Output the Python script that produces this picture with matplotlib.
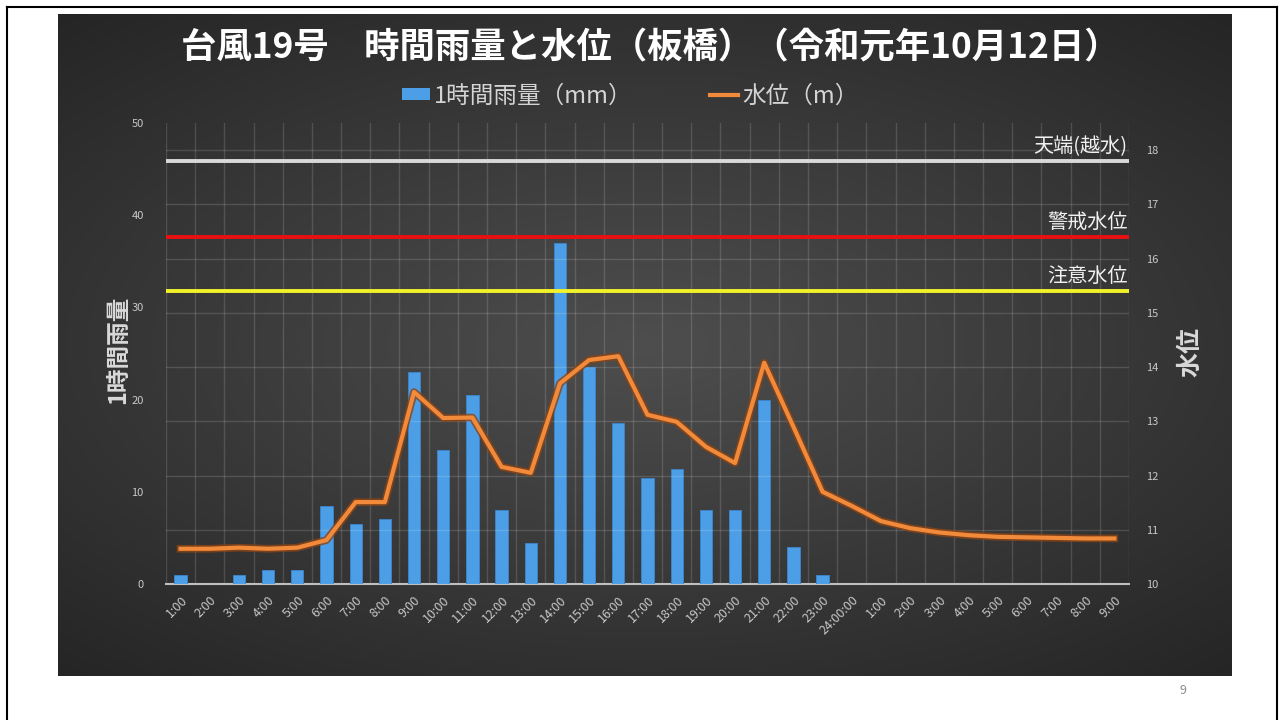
import numpy as np
import matplotlib
matplotlib.use('Agg')
import matplotlib.pyplot as plt
from matplotlib.lines import Line2D
from matplotlib.patches import Patch
import matplotlib.patheffects as pe

plt.rcParams['font.family'] = ['Noto Sans CJK JP', 'DejaVu Sans']

# ---- data ----
categories = ['1:00', '2:00', '3:00', '4:00', '5:00', '6:00', '7:00', '8:00', '9:00',
              '10:00', '11:00', '12:00', '13:00', '14:00', '15:00', '16:00', '17:00',
              '18:00', '19:00', '20:00', '21:00', '22:00', '23:00', '24:00:00',
              '1:00', '2:00', '3:00', '4:00', '5:00', '6:00', '7:00', '8:00', '9:00']
rain_mm = [1, 0, 1, 1.5, 1.5, 8.5, 6.5, 7, 23, 14.5, 20.5, 8, 4.5, 37, 23.5, 17.5,
           11.5, 12.5, 8, 8, 20, 4, 1, 0, 0, 0, 0, 0, 0, 0, 0, 0, 0]
water_level_m = [10.65, 10.65, 10.67, 10.65, 10.67, 10.81, 11.51, 11.51, 13.54, 13.06,
                 13.07, 12.16, 12.05, 13.7, 14.13, 14.2, 13.12, 12.99, 12.53, 12.23,
                 14.08, 12.9, 11.7, 11.44, 11.16, 11.03, 10.95, 10.9, 10.87, 10.86,
                 10.85, 10.84, 10.84]
level_names = ['天端(越水)', '警戒水位', '注意水位']
level_values = [17.8, 16.4, 15.4]
level_colors = ['#d9d9d9', '#e81010', '#f2f22a']
rain_ticks = [0, 10, 20, 30, 40, 50]
level_ticks = [10, 11, 12, 13, 14, 15, 16, 17, 18]

title = '台風19号　時間雨量と水位（板橋）（令和元年10月12日）'
legend_rain = '1時間雨量（mm）'
legend_level = '水位（m）'

W, H = 1281, 720
fig = plt.figure(figsize=(W / 100, H / 100), dpi=100)
fig.patch.set_facecolor('white')

# slide border
for xs, ys in [((7 / W, 7 / W), (0, 1 - 7 / H)), ((7 / W, 1277 / W), (1 - 7 / H, 1 - 7 / H)),
               ((1277 / W, 1277 / W), (1 - 7 / H, 0))]:
    fig.add_artist(Line2D(xs, ys, color='black', lw=1.5, transform=fig.transFigure))

# dark gradient background
bg = fig.add_axes([58 / W, 1 - 676 / H, (1232 - 58) / W, (676 - 14) / H])
bg.set_axis_off()
gx, gy = np.meshgrid(np.linspace(-1, 1, 400), np.linspace(-1, 1, 240))
r = np.sqrt((gx * 0.9) ** 2 + (gy * 1.0) ** 2)
r = np.clip(r / 1.35, 0, 1)
c0 = np.array([0x4e, 0x4e, 0x4e]) / 255
c1 = np.array([0x25, 0x25, 0x25]) / 255
img = c0[None, None, :] * (1 - r[..., None]) + c1[None, None, :] * r[..., None]
bg.imshow(img, aspect='auto', extent=[0, 1, 0, 1], interpolation='bilinear')

# main axes
left, bottom = 166 / W, 1 - 584 / H
width, height = (1129 - 166) / W, (584 - 123) / H
ax = fig.add_axes([left, bottom, width, height])
ax.set_facecolor('none')
ax2 = ax.twinx()
ax2.set_facecolor('none')

x = np.arange(len(categories))
ax.bar(x, rain_mm, width=0.42, color='#4c9fe6', edgecolor='#3b86cf', linewidth=0.6, zorder=3)
ax.set_xlim(-0.5, len(categories) - 0.5)
ax.set_ylim(0, 50)
ax.set_yticks(rain_ticks)
ax.set_xticks(x)
ax.set_xticklabels(categories, rotation=45, ha='right', rotation_mode='anchor',
                   fontsize=9, color='#c8c8c8')
ax.set_xticks(np.arange(len(categories) + 1) - 0.5, minor=True)
ax.grid(which='minor', axis='x', color='white', alpha=0.14, lw=1)
ax.tick_params(axis='x', which='both', length=0, pad=7)
ax.tick_params(axis='y', length=0, labelsize=8, colors='#c8c8c8', pad=16)
for s in ['top', 'right', 'left']:
    ax.spines[s].set_visible(False)
ax.spines['bottom'].set_color('#bfbfbf')
ax.spines['bottom'].set_linewidth(1.5)

ax2.set_ylim(10, 18.5)
ax2.set_yticks(level_ticks)
ax2.tick_params(axis='y', length=0, labelsize=8, colors='#c8c8c8', pad=12)
ax2.grid(axis='y', color='white', alpha=0.14, lw=1)
for s in ax2.spines.values():
    s.set_visible(False)

for name, val, col in zip(level_names, level_values, level_colors):
    ax2.axhline(val, color=col, lw=2.8, zorder=4)
    ax2.annotate(name, xy=(1, val), xycoords=('axes fraction', 'data'),
                 xytext=(-1, 3), textcoords='offset points', ha='right', va='bottom',
                 fontsize=14.5, color='#f0f0f0', zorder=6)

ax2.plot(x, water_level_m, color='#f28a3c', lw=3, zorder=5, solid_joinstyle='round',
         path_effects=[pe.Stroke(linewidth=5.5, foreground='#8a4415', alpha=0.8), pe.Normal()])

# title
fig.text(650 / W, 1 - 48 / H, title, ha='center', va='center', fontsize=25.5,
         fontweight='bold', color='white')

# legend
handles = [Patch(facecolor='#4c9fe6', edgecolor='none'),
           Line2D([0], [0], color='#f28a3c', lw=3)]
fig.legend(handles, [legend_rain, legend_level], loc='center',
           bbox_to_anchor=(630 / W, 1 - 96 / H), ncol=2, frameon=False, fontsize=17,
           labelcolor='#d4d4d4', handlelength=1.2, handleheight=0.45,
           handletextpad=0.15, columnspacing=3.3)

# axis labels
fig.text(118 / W, 1 - 350 / H, '1時間雨量', rotation=90, ha='center', va='center',
         fontsize=17, fontweight='bold', color='#d9d9d9')
fig.text(1190 / W, 1 - 352 / H, '水位', rotation=90, ha='center', va='center',
         fontsize=18, fontweight='bold', color='#d9d9d9')

# page number
fig.text(1183 / W, 1 - 690 / H, '9', ha='center', va='center', fontsize=9, color='#8c8c8c')

fig.savefig('out.png', dpi=100, facecolor='white')
